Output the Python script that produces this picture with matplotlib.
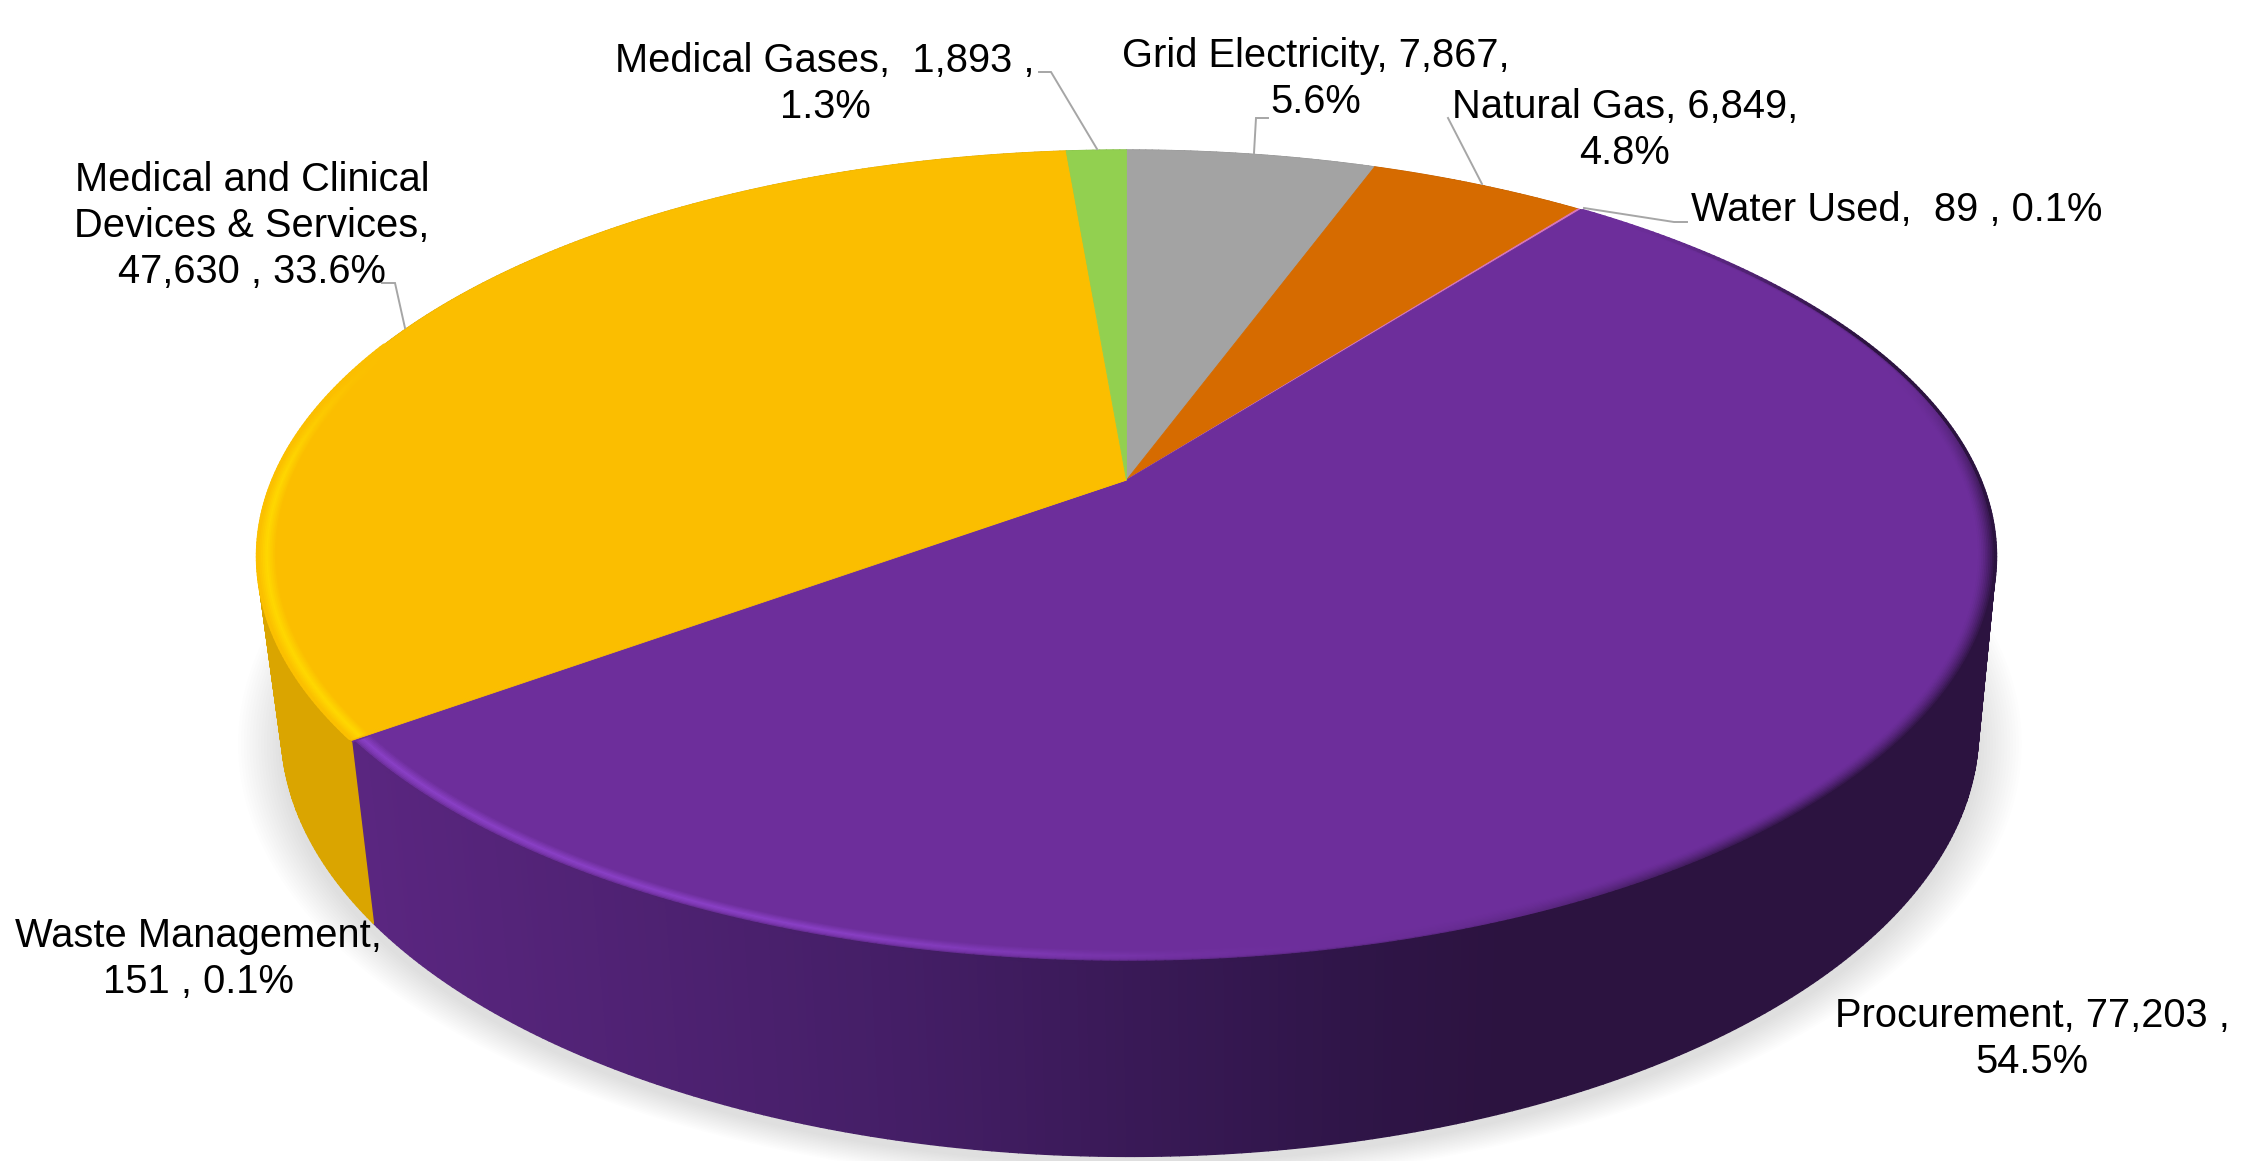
#!/usr/bin/env python3
"""3D-look pie: top face + side wall projected by hand (matplotlib 3d pie doesn't do the perspective)."""
import numpy as np
import matplotlib
matplotlib.use("Agg")
import matplotlib.pyplot as plt
from matplotlib.collections import LineCollection, PolyCollection
from matplotlib.patches import Polygon

categories = ["Grid Electricity", "Natural Gas", "Water Used", "Procurement",
              "Waste Management", "Medical and Clinical Devices & Services", "Medical Gases"]
values = [7867, 6849, 89, 77203, 151, 47630, 1893]
percents = [5.6, 4.8, 0.1, 54.5, 0.1, 33.6, 1.3]
colors = ["#A3A3A3", "#D66B00", "#D878C0", "#6D2E9B", "#FBBE00", "#FBBE00", "#92D050"]
label_texts = ["Grid Electricity, 7,867,\n5.6%", "Natural Gas, 6,849,\n4.8%", "Water Used,  89 , 0.1%",
               "Procurement, 77,203 ,\n54.5%", "Waste Management,\n151 , 0.1%",
               "Medical and Clinical\nDevices & Services,\n47,630 , 33.6%", "Medical Gases,  1,893 ,\n1.3%"]
label_pos = [(1316, 79), (1625, 130), (1897, 210), (2032, 1039), (198, 959), (252, 226), (825, 84)]
leaders = [[(1268, 118), (1256, 118), (1254, 153)],
           [(1448, 118), (1482, 184)],
           [(1584, 208), (1674, 222), (1687, 222)],
           [(382, 283), (395, 283), (405, 328)],
           [(1039, 72), (1051, 72), (1097, 149)]]

W, H = 2261, 1161
CX, CY = 1126.5, 480      # apex of the pie on screen
KP, SX, SY = 0.188, 854, 392   # perspective of the top face
BX, BY, BSX, BSY = 3.4, 170, 0.976, 1.049   # bottom ring relative to the top one


def proj(deg, r=1.0):
    t = np.radians(deg)
    x, y = r * np.sin(t), r * np.cos(t)
    w = 1 + KP * y
    return SX * x / w, -SY * y / w


def top_xy(deg, r=1.0):
    px, py = proj(deg, r)
    return CX + px, CY + py


def bot_xy(deg, r=1.0):
    px, py = proj(deg, r)
    return CX + BX + BSX * px, CY + BY + BSY * py


def mix(a, b, t):
    return tuple(np.asarray(a) * (1 - t) + np.asarray(b) * t)


def rgb(*c):
    return tuple(v / 255 for v in c)


def smooth(a, b, x):
    t = np.clip((x - a) / (b - a), 0, 1)
    return t * t * (3 - 2 * t)


def purple_side(x):
    return tuple(np.interp(x, [355, 900, 1350, 1500], c) / 255 for c in zip((90, 38, 128), (68, 30, 102), (47, 21, 72), (44, 19, 64)))


fig = plt.figure(figsize=(W / 100, H / 100), dpi=100)
ax = fig.add_axes([0, 0, 1, 1])
ax.set_xlim(0, W); ax.set_ylim(H, 0); ax.axis("off")

fracs = np.array(values) / sum(values)
edges = np.concatenate([[0], np.cumsum(fracs)]) * 360

# -- soft shadow under the pie --
ring = np.linspace(0, 360, 361)
for i in range(16):
    grow = 1 + i * 0.0034
    bx, by = bot_xy(ring)
    mx, my = CX + BX, CY + BY + 85
    pts = np.column_stack([mx + (bx - mx) * grow, my + (by - my) * grow * 0.985 + 14])
    ax.add_patch(Polygon(pts, closed=True, fc="k", ec="none", alpha=0.0095, zorder=1))

# -- side wall --
quads, qcols = [], []
for i, col in enumerate(colors):
    a0, a1 = edges[i], edges[i + 1]
    n = max(2, int((a1 - a0) * 2))
    th = np.linspace(a0, a1, n + 1)
    for p, q in zip(th[:-1], th[1:]):
        tp, tq, bq, bp = top_xy(p), top_xy(q), bot_xy(q), bot_xy(p)
        quads.append([tp, tq, bq, bp])
        xm = (tp[0] + tq[0]) / 2
        if categories[i] == "Procurement":
            qcols.append(purple_side(xm))
        else:
            qcols.append(mix(matplotlib.colors.to_rgb(col), (0, 0, 0), 0.13))
ax.add_collection(PolyCollection(quads, facecolors=qcols, edgecolors=qcols, linewidths=1.0, zorder=2))

# -- top face --
for i, col in enumerate(colors):
    th = np.linspace(edges[i], edges[i + 1], max(3, int(fracs[i] * 720)))
    rx, ry = top_xy(th)
    pts = np.vstack([[CX, CY], np.column_stack([rx, ry])])
    ax.add_patch(Polygon(pts, closed=True, fc=col, ec=col, lw=0.6, zorder=3))

# -- bevel along the rim: light on the left, dark on the lower right --
proc_end, yellow_end = edges[4], edges[6]
base_purple = matplotlib.colors.to_rgb(colors[3])
base_yellow = matplotlib.colors.to_rgb(colors[5])
segs, cols = [], []
for r in np.linspace(0.98, 0.9995, 11):
    band = 1 - abs(r - 0.99) / 0.0105
    edge = (r - 0.98) / 0.0195
    th = np.arange(edges[2] + 0.5, proc_end, 0.5)
    for p, q in zip(th[:-1], th[1:]):
        m = (p + q) / 2
        tp, tq = top_xy(p, r), top_xy(q, r)
        lit = smooth(168, 200, m) * max(band, 0)
        dark = smooth(170, 135, m) * smooth(70, 100, m) * edge ** 1.5
        dark = max(dark, edge ** 14 * smooth(40, 70, m))
        c = mix(base_purple, rgb(138, 64, 198), lit)
        c = mix(c, purple_side(tp[0]), dark)
        segs.append([tp, tq]); cols.append(c)
    th = np.arange(proc_end + 0.3, 292, 0.5)
    for p, q in zip(th[:-1], th[1:]):
        m = (p + q) / 2
        lit = smooth(292, 268, m) * max(band, 0)
        segs.append([top_xy(p, r), top_xy(q, r)])
        cols.append(mix(base_yellow, rgb(255, 216, 0), lit))
ax.add_collection(LineCollection(segs, colors=cols, linewidths=2.4, capstyle="round", zorder=4))

# -- leader lines and labels --
for pts in leaders:
    xs, ys = zip(*pts)
    ax.plot(xs, ys, color="#A6A6A6", lw=1.4, zorder=5, solid_joinstyle="miter")
for txt, (x, y) in zip(label_texts, label_pos):
    ax.text(x, y, txt, ha="center", va="center", fontsize=28.7, color="black",
            family="Liberation Sans", linespacing=1.26, zorder=6)

fig.savefig("out.png", dpi=100)
